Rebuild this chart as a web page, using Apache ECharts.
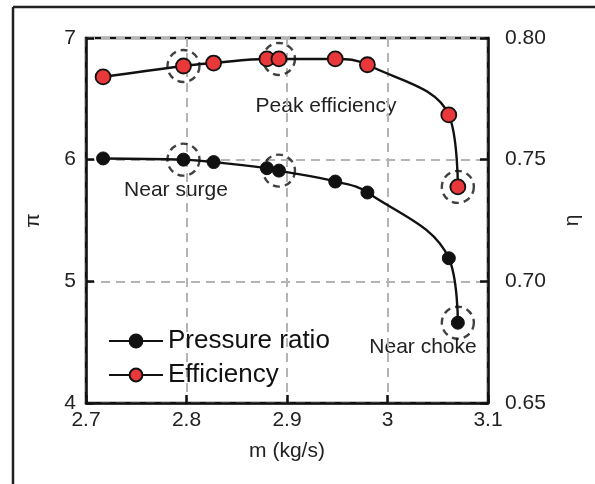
<!DOCTYPE html>
<html>
<head>
<meta charset="utf-8">
<script src="https://cdn.jsdelivr.net/npm/echarts@6/dist/echarts.min.js"></script>
<style>
  html, body { margin: 0; padding: 0; background: #fff; }
  #chart { width: 595px; height: 484px; }
</style>
</head>
<body>
<div id="chart"></div>
<script>
// mass flow (kg/s) for each operating point
var massFlow = [2.717, 2.797, 2.827, 2.880, 2.892, 2.948, 2.980, 3.061, 3.070];
// pressure ratio (left axis)
var pressureRatio = [6.01, 6.00, 5.98, 5.93, 5.91, 5.82, 5.73, 5.19, 4.66];
// efficiency (right axis)
var efficiency = [0.7840, 0.7885, 0.7897, 0.7914, 0.7914, 0.7914, 0.7890, 0.7684, 0.7388];
// points circled with a dashed ring
var circledPR = [1, 4, 8];
var circledEff = [1, 4, 8];

var xTicks = ['2.7', '2.8', '2.9', '3', '3.1'];

var dom = document.getElementById('chart');
var myChart = echarts.init(dom);

function pairs(xs, ys) {
  var out = [];
  for (var i = 0; i < xs.length; i++) {
    out.push([xs[i], ys[i]]);
  }
  return out;
}
function pick(xs, ys, idx) {
  return idx.map(function (i) { return [xs[i], ys[i]]; });
}

var font = 'Liberation Sans, Arial, sans-serif';
var gridLine = { show: true, lineStyle: { color: '#b4b4b4', width: 2, type: [9, 6] } };

var ringStyle = {
  color: 'rgba(0,0,0,0)',
  borderColor: '#111',
  borderWidth: 2.4,
  borderType: [7, 5]
};

var option = {
  backgroundColor: '#fff',
  animation: false,
  textStyle: { fontFamily: font },
  grid: {
    left: 86, right: 107, top: 38, bottom: 81,
    show: true, borderColor: '#111', borderWidth: 2.5
  },
  legend: {
    orient: 'vertical',
    left: 103, top: 323,
    itemWidth: 54, itemHeight: 16, itemGap: 8,
    textStyle: { fontSize: 26, color: '#111', fontFamily: font },
    data: ['Pressure ratio', 'Efficiency']
  },
  xAxis: {
    type: 'value',
    min: 2.7, max: 3.1, interval: 0.1,
    name: 'm (kg/s)', nameLocation: 'middle', nameGap: 38,
    nameTextStyle: { fontSize: 21, color: '#222' },
    axisLine: { show: true, lineStyle: { color: '#111', width: 2.5 } },
    axisTick: { show: true, inside: true, length: 8, lineStyle: { color: '#111', width: 2.5 } },
    axisLabel: {
      fontSize: 21, color: '#222', margin: 7,
      formatter: function (v) { return xTicks[Math.round((v - 2.7) * 10)]; }
    },
    splitLine: gridLine
  },
  yAxis: [
    {
      type: 'value', min: 4, max: 7, interval: 1,
      name: 'π', nameLocation: 'middle', nameGap: 42,
      nameTextStyle: { fontSize: 21, color: '#222' },
      axisLine: { show: true, lineStyle: { color: '#111', width: 2.5 } },
      axisTick: { show: true, inside: true, length: 8, lineStyle: { color: '#111', width: 2.5 } },
      axisLabel: { fontSize: 21, color: '#222', margin: 10 },
      splitLine: gridLine
    },
    {
      type: 'value', min: 0.65, max: 0.80, interval: 0.05,
      name: 'η', nameLocation: 'middle', nameGap: 74, nameRotate: 90,
      nameTextStyle: { fontSize: 21, color: '#222' },
      axisLine: { show: true, lineStyle: { color: '#111', width: 2.5 } },
      axisTick: { show: true, inside: true, length: 8, lineStyle: { color: '#111', width: 2.5 } },
      axisLabel: {
        fontSize: 21, color: '#222', margin: 17,
        formatter: function (v) { return v.toFixed(2); }
      },
      splitLine: { show: false }
    }
  ],
  series: [
    {
      name: 'Pressure ratio',
      type: 'line',
      yAxisIndex: 0,
      smooth: 0.4,
      symbol: 'circle',
      symbolSize: 13,
      lineStyle: { color: '#111', width: 2.4 },
      itemStyle: { color: '#111', borderColor: '#111', borderWidth: 1 },
      data: pairs(massFlow, pressureRatio),
      z: 3
    },
    {
      name: 'Efficiency',
      type: 'line',
      yAxisIndex: 1,
      smooth: 0.4,
      symbol: 'circle',
      symbolSize: 15,
      lineStyle: { color: '#111', width: 2.4 },
      itemStyle: { color: '#e8383a', borderColor: '#111', borderWidth: 1.8 },
      data: pairs(massFlow, efficiency),
      z: 3
    },
    {
      type: 'scatter',
      yAxisIndex: 0,
      symbol: 'circle',
      symbolSize: 32,
      itemStyle: ringStyle,
      data: pick(massFlow, pressureRatio, circledPR),
      z: 2,
      silent: true
    },
    {
      type: 'scatter',
      yAxisIndex: 1,
      symbol: 'circle',
      symbolSize: 32,
      itemStyle: ringStyle,
      data: pick(massFlow, efficiency, circledEff),
      z: 2,
      silent: true
    }
  ],
  graphic: [
    { type: 'line', shape: { x1: 13, y1: 7, x2: 595, y2: 7 }, style: { stroke: '#222', lineWidth: 2.5 } },
    { type: 'line', shape: { x1: 13, y1: 7, x2: 13, y2: 484 }, style: { stroke: '#222', lineWidth: 2.5 } },
    { type: 'text', x: 326, y: 106, style: { text: 'Peak efficiency', fontSize: 21, fill: '#222', fontFamily: font, align: 'center', verticalAlign: 'middle' } },
    { type: 'text', x: 176, y: 190, style: { text: 'Near surge', fontSize: 21, fill: '#222', fontFamily: font, align: 'center', verticalAlign: 'middle' } },
    { type: 'text', x: 423, y: 347, style: { text: 'Near choke', fontSize: 21, fill: '#222', fontFamily: font, align: 'center', verticalAlign: 'middle' } }
  ]
};

myChart.setOption(option);
</script>
</body>
</html>
